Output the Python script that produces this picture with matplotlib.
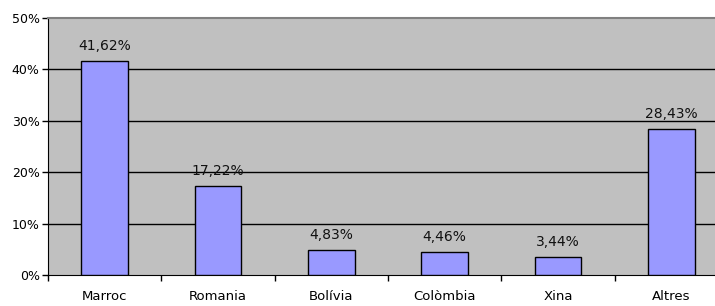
import matplotlib
matplotlib.use("Agg")
import matplotlib.pyplot as plt
from matplotlib.ticker import FixedLocator, NullFormatter

CATEGORIES = ["Marroc", "Romania", "Bolívia", "Colòmbia", "Xina", "Altres"]
VALUES = [41.62, 17.22, 4.83, 4.46, 3.44, 28.43]
Y_TICKS = [0, 10, 20, 30, 40, 50]

plt.rcParams.update({"font.family": "DejaVu Sans", "font.size": 9})

W, H = 715, 306
fig = plt.figure(figsize=(W / 100, H / 100), dpi=100)
# plot area runs off the right edge of the picture, as in the original
ax = fig.add_axes([48 / W, (H - 275) / H, 680 / W, 257 / H])
ax.set_facecolor("#c0c0c0")

xs = list(range(len(CATEGORIES)))
ax.bar(xs, VALUES, width=0.41, color="#9999ff", edgecolor="black",
       linewidth=1.0, zorder=3)

for x, v in zip(xs, VALUES):
    ax.annotate(f"{v:.2f}%".replace(".", ","), xy=(x, v), xytext=(0, 6),
                textcoords="offset points", ha="center", va="bottom",
                fontsize=10, color="#111111")

ax.set_xlim(-0.5, len(CATEGORIES) - 0.5)
ax.set_ylim(0, 50)

ax.set_yticks(Y_TICKS)
ax.set_yticklabels([f"{t}%" for t in Y_TICKS], fontsize=9)
for t in Y_TICKS[1:-1]:
    ax.axhline(t, color="black", linewidth=1.0, zorder=1)

# category labels centred, tick marks at category boundaries
ax.xaxis.set_major_locator(FixedLocator([x - 0.5 for x in xs] + [len(xs) - 0.5]))
ax.xaxis.set_major_formatter(NullFormatter())
ax.xaxis.set_minor_locator(FixedLocator(xs))
ax.set_xticklabels(CATEGORIES, minor=True, fontsize=9.5)
ax.tick_params(axis="x", which="minor", length=0, pad=11)
ax.tick_params(axis="x", which="major", length=4, direction="out", width=1)
ax.tick_params(axis="y", length=4, direction="out", width=1, pad=2)

ax.spines["right"].set_visible(False)
ax.spines["top"].set_color("#808080")
ax.spines["top"].set_linewidth(1.5)
ax.spines["left"].set_color("black")
ax.spines["bottom"].set_color("black")

fig.savefig("out.png", dpi=100)
